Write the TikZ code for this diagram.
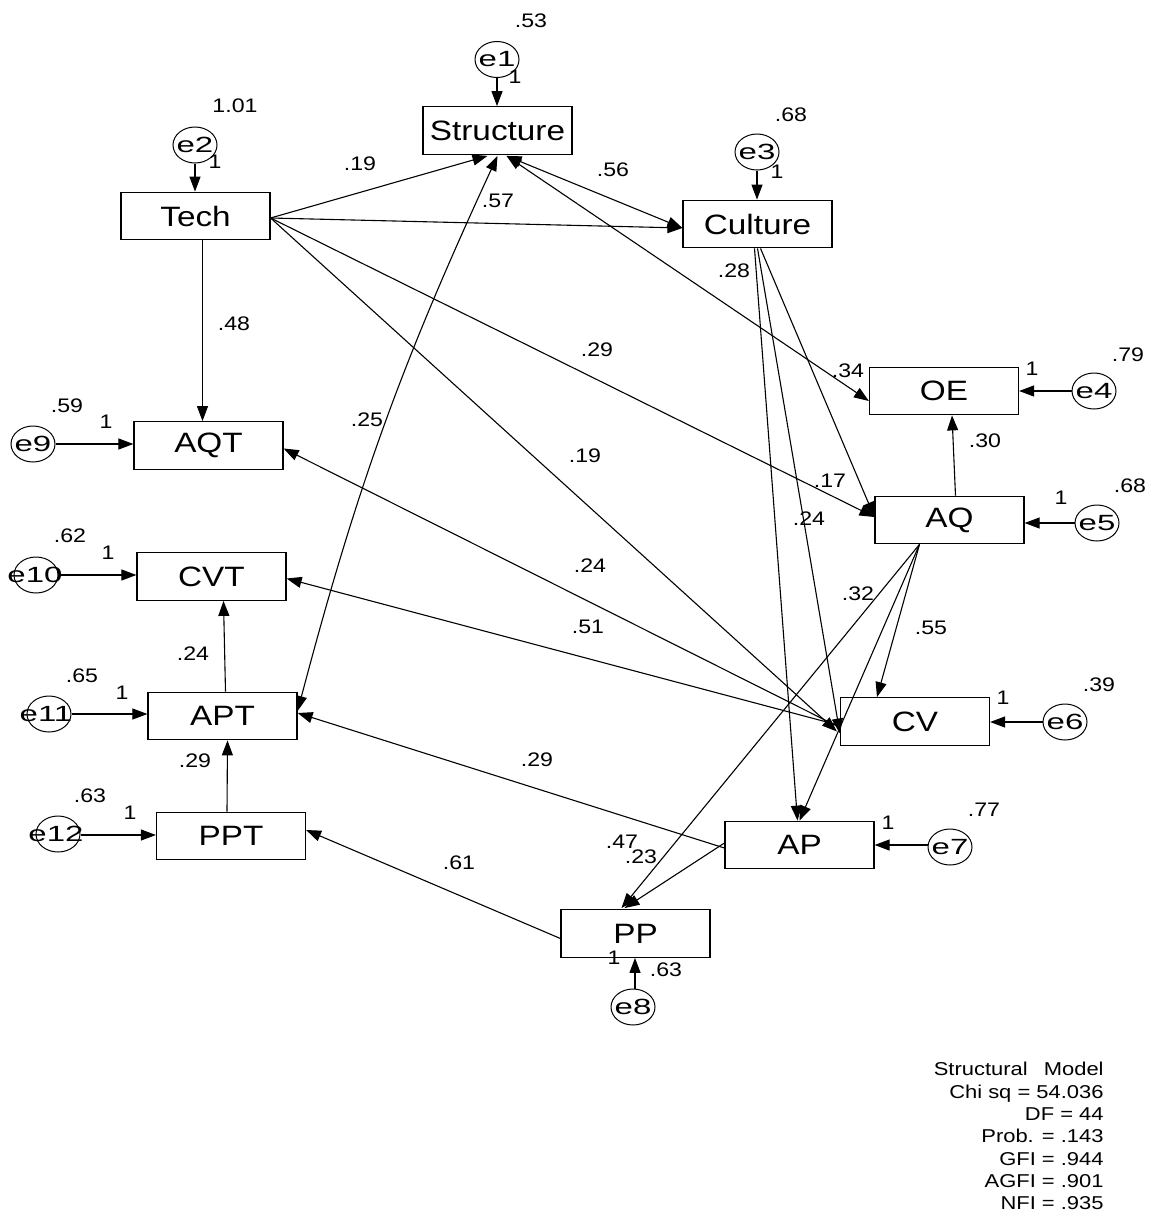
\documentclass[tikz,border=0pt]{standalone}
\usepackage{fontspec}
\setmainfont{Liberation Sans}
\newfontfamily\boxfont[FakeStretch=1.19]{Liberation Sans}
\newfontfamily\labfont[FakeStretch=1.18]{Liberation Sans}
\newfontfamily\efont[FakeStretch=1.5]{Liberation Sans}
\usetikzlibrary{arrows.meta,calc,shapes.geometric}
\begin{document}
\begin{tikzpicture}[x=0.5pt,y=-0.5pt,
  box/.style={draw, line width=0.6pt, minimum width=74.5pt, minimum height=23.8pt, inner sep=0pt,
    font=\boxfont\fontsize{14}{16}\selectfont},
  eell/.style={draw, ellipse, line width=0.5pt, minimum width=22pt, minimum height=18pt, inner sep=0pt},
  etxt/.style={inner sep=0pt, font=\efont\fontsize{11}{12}\selectfont},
  lab/.style={inner sep=0pt, font=\labfont\fontsize{9.8}{11.15}\selectfont},
  conn/.style={line width=0.55pt, -{Triangle[length=7.5pt,width=5.5pt]}},
  both/.style={line width=0.55pt, {Triangle[length=7.5pt,width=5.5pt]}-{Triangle[length=7.5pt,width=5.5pt]}}
]
\fill[white] (0,0) rectangle (1152,1226);
\useasboundingbox (0,0) rectangle (1152,1226);

% observed boxes
\node[box] (Structure) at (497.5,130.5) {Structure};
\node[box] (Tech) at (195.5,216) {Tech};
\node[box] (Culture) at (757.5,224) {Culture};
\node[box] (OE) at (944,391) {OE};
\node[box] (AQ) at (949.5,520) {AQ};
\node[box] (CV) at (915,721.5) {CV};
\node[box] (AP) at (799.5,845) {AP};
\node[box] (PP) at (635.5,933.5) {PP};
\node[box] (AQT) at (208.5,445.5) {AQT};
\node[box] (CVT) at (211.5,576.5) {CVT};
\node[box] (APT) at (222.5,716) {APT};
\node[box] (PPT) at (231,836) {PPT};

% error terms
\node[eell] (e1) at (497,59.5) {};
\node[eell] (e2) at (195,145) {};
\node[eell] (e3) at (757,152) {};
\node[eell] (e4) at (1094,391) {};
\node[eell] (e5) at (1097,523) {};
\node[eell] (e6) at (1065,722) {};
\node[eell] (e7) at (950,847) {};
\node[eell] (e8) at (633,1007) {};
\node[eell] (e9) at (33,444) {};
\node[eell] (e10) at (36,575) {};
\node[eell] (e11) at (49,714) {};
\node[eell] (e12) at (58,834) {};
\node[etxt] at (e1) {e1};
\node[etxt] at (e2) {e2};
\node[etxt] at (e3) {e3};
\node[etxt] at (e4) {e4};
\node[etxt] at (e5) {e5};
\node[etxt] at (e6) {e6};
\node[etxt] at (e7) {e7};
\node[etxt] at (e8) {e8};
\node[etxt] at (e9) {e9};
\node[etxt] at (35,575) {e10};
\node[etxt] at (46,714) {e11};
\node[etxt] at (56,834) {e12};

% error arrows
\draw[conn] (e1.south) -- (e1.south |- Structure.north);
\draw[conn] (e2.south) -- (e2.south |- Tech.north);
\draw[conn] (e3.south) -- (e3.south |- Culture.north);
\draw[conn] (e4.west) -- (e4.west -| OE.east);
\draw[conn] (e5.west) -- (e5.west -| AQ.east);
\draw[conn] (e6.west) -- (e6.west -| CV.east);
\draw[conn] ($(e7.west)+(0,-2)$) -- ($(e7.west -| AP.east)+(0,-2)$);
\draw[conn] ($(e8.north)+(2,0)$) -- ($(e8.north |- PP.south)+(2,0)$);
\draw[conn] (e9.east) -- (e9.east -| AQT.west);
\draw[conn] (e10.east) -- (e10.east -| CVT.west);
\draw[conn] (e11.east) -- (e11.east -| APT.west);
\draw[conn] ($(e12.east)+(0,1)$) -- ($(e12.east -| PPT.west)+(0,1)$);

% structural paths
\draw[conn] ($(Tech.east)+(0,2)$) -- ($(Structure.south)+(-10,1)$);
\draw[conn] ($(Tech.east)+(0,2)$) -- ($(Culture.west)+(0,4)$);
\draw[conn] ($(Tech.east)+(0,2)$) -- ($(AQ.west)+(0,-3)$);
\draw[conn] ($(Tech.east)+(0,2)$) -- ($(CV.west)+(-3,10)$);
\draw[conn] ($(Tech.south)+(7,0)$) -- ($(AQT.north)+(-6,0)$);
\draw[both] ($(Structure.south)+(9,1)$) -- ($(Culture.west)+(0,4)$);
\draw[both] ($(Structure.south)+(9,1)$) -- ($(OE.west)+(0,10)$);
\draw[both] ($(Structure.south)+(0,1)$) to[bend right=5] ($(APT.east)+(0,-5)$);
\draw[conn] ($(Culture.south)+(3,0)$) -- ($(AQ.west)+(0,-3)$);
\draw[conn] ($(Culture.south)+(-3,0)$) -- ($(AP.north)+(-2,0)$);
\draw[conn] ($(Culture.south)+(0,0)$) -- ($(CV.west)+(0,12)$);
\draw[conn] ($(AQ.north)+(6,0)$) -- ($(OE.south)+(8,0)$);
\draw[conn] ($(AQ.south)+(-30,0)$) -- ($(CV.north)+(-38,0)$);
\draw[conn] ($(AQ.south)+(-30,0)$) -- ($(AP.north)+(0,0)$);
\draw[conn] ($(AQ.south)+(-30,0)$) -- ($(PP.north)+(-14,-1)$);
\draw[conn] ($(AP.west)+(0,3)$) -- ($(APT.east)+(0,-3)$);
\draw[conn] ($(AP.west)+(0,-2)$) -- ($(PP.north)+(-11,-1)$);
\draw[conn] ($(PP.west)+(0,5)$) -- ($(PPT.east)+(0,-6)$);
\draw[conn] ($(APT.north)+(3,0)$) -- ($(CVT.south)+(12,0)$);
\draw[conn] ($(PPT.north)+(-4,0)$) -- ($(APT.south)+(5,0)$);
\draw[conn] ($(CV.west)+(0,6)$) -- ($(AQT.east)+(0,3)$);
\draw[conn] ($(CV.west)+(0,4)$) -- ($(CVT.east)+(0,2)$);

% labels
\node[lab] at (531,21) {.53};
\node[lab] at (515,77) {1};
\node[lab] at (235,106) {1.01};
\node[lab] at (215,162) {1};
\node[lab] at (360,164) {.19};
\node[lab] at (498,201) {.57};
\node[lab] at (613,170) {.56};
\node[lab] at (791,115) {.68};
\node[lab] at (777,172) {1};
\node[lab] at (734,271) {.28};
\node[lab] at (234,324) {.48};
\node[lab] at (597,350) {.29};
\node[lab] at (848,371) {.34};
\node[lab] at (1032,369) {1};
\node[lab] at (1128,355) {.79};
\node[lab] at (67,406) {.59};
\node[lab] at (106,422) {1};
\node[lab] at (367,420) {.25};
\node[lab] at (985,441) {.30};
\node[lab] at (585,456) {.19};
\node[lab] at (830,481) {.17};
\node[lab] at (1061,498) {1};
\node[lab] at (1130,486) {.68};
\node[lab] at (809,519) {.24};
\node[lab] at (70,536) {.62};
\node[lab] at (108,553) {1};
\node[lab] at (590,566) {.24};
\node[lab] at (858,594) {.32};
\node[lab] at (588,627) {.51};
\node[lab] at (931,628) {.55};
\node[lab] at (193,654) {.24};
\node[lab] at (82,676) {.65};
\node[lab] at (122,693) {1};
\node[lab] at (1003,698) {1};
\node[lab] at (1099,685) {.39};
\node[lab] at (537,760) {.29};
\node[lab] at (195,761) {.29};
\node[lab] at (90,796) {.63};
\node[lab] at (130,813) {1};
\node[lab] at (984,810) {.77};
\node[lab] at (888,823) {1};
\node[lab] at (622,842) {.47};
\node[lab] at (641,857) {.23};
\node[lab] at (459,863) {.61};
\node[lab] at (614,958) {1};
\node[lab] at (666,970) {.63};

% fit statistics
\node[lab, font=\labfont\fontsize{9.3}{11.15}\selectfont, align=right, anchor=north east] (stats) at (1104,1062)
  {Structural\hspace{5pt} Model\\Chi sq = 54.036\\DF = 44\\Prob. = .143\\GFI = .944\\AGFI = .901\\NFI = .935};
\end{tikzpicture}
\end{document}
